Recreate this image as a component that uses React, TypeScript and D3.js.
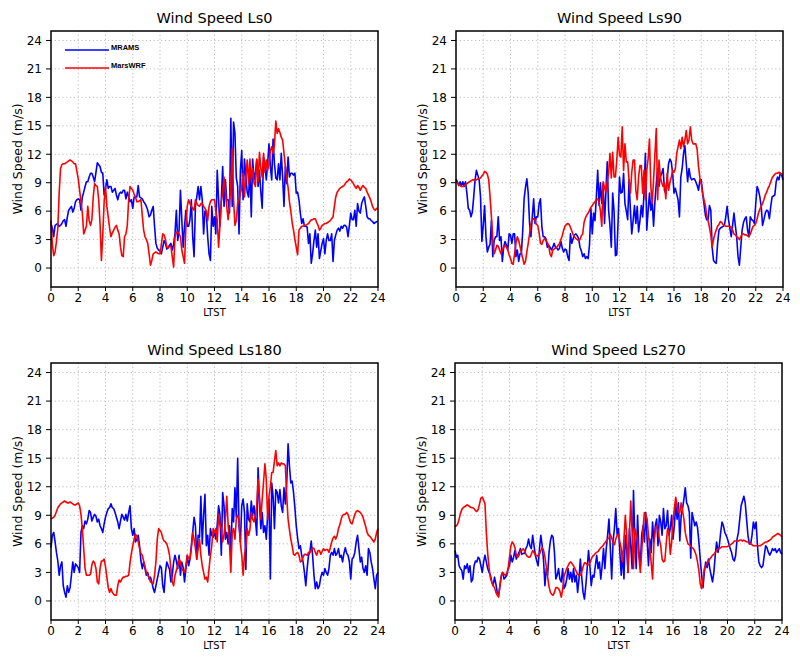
import React from "react";
import * as d3 from "d3";

// Hourly grid of the model output: one value every 0.1 h from 0 to 24 LTST
const TIME_STEP = 0.1;
const xTickValues = [0, 2, 4, 6, 8, 10, 12, 14, 16, 18, 20, 22, 24];
const yTickValues = [0, 3, 6, 9, 12, 15, 18, 21, 24];
const seriesNames = ["MRAMS", "MarsWRF"];

const mramsLs0 = [
  4.7, 4.2, 3.3, 4.5, 4.6, 4.7, 4.4, 4.5, 4.7, 5.0,
  5.1, 4.4, 5.4, 6.1, 6.3, 6.5, 5.9, 6.3, 7.0, 7.2,
  7.3, 7.2, 6.1, 7.5, 8.0, 8.6, 9.1, 9.1, 9.6, 10.0,
  10.0, 9.6, 9.1, 10.1, 11.1, 10.9, 10.7, 10.1, 10.0, 7.7,
  8.4, 9.3, 8.4, 8.6, 8.6, 8.0, 8.2, 8.4, 7.7, 7.2,
  7.8, 8.0, 7.9, 8.2, 8.2, 7.3, 8.0, 7.5, 7.0, 7.2,
  6.3, 7.5, 7.5, 7.5, 8.7, 7.5, 7.4, 7.3, 7.0, 6.8,
  6.5, 6.1, 5.4, 5.6, 6.1, 6.5, 4.4, 2.6, 2.1, 1.9,
  1.8, 1.5, 2.2, 2.9, 2.6, 2.0, 2.2, 2.4, 2.6, 1.9,
  2.5, 3.6, 6.1, 2.9, 4.0, 8.2, 5.1, 2.2, 4.4, 6.1,
  4.4, 4.4, 5.1, 7.2, 3.3, 1.2, 6.5, 7.5, 8.6, 7.2,
  8.6, 7.2, 3.6, 6.0, 5.8, 3.3, 1.5, 0.8, 6.5, 4.4,
  5.4, 3.6, 10.3, 7.2, 4.4, 7.2, 10.7, 6.5, 9.3, 7.2,
  7.2, 5.8, 15.8, 6.5, 15.4, 14.2, 9.5, 8.6, 3.6, 10.3,
  12.4, 7.2, 11.5, 9.6, 8.0, 7.5, 10.5, 5.4, 11.5, 9.3,
  10.0, 11.4, 8.6, 10.3, 8.0, 6.3, 11.7, 10.8, 9.3, 11.0,
  13.1, 10.7, 9.3, 13.6, 11.0, 9.5, 9.3, 11.0, 9.3, 12.1,
  9.6, 6.5, 10.7, 8.9, 11.7, 9.6, 10.0, 10.0, 9.8, 10.0,
  7.9, 8.0, 7.2, 5.8, 4.7, 5.2, 4.4, 4.4, 4.3, 2.6,
  3.6, 0.5, 1.5, 2.9, 4.0, 2.2, 3.6, 1.0, 1.8, 2.6,
  3.1, 1.5, 2.9, 3.6, 2.9, 2.9, 3.6, 0.7, 2.9, 3.5,
  4.0, 4.2, 3.9, 4.4, 4.2, 4.5, 4.5, 4.3, 3.3, 4.5,
  5.8, 5.1, 5.1, 6.1, 4.4, 6.8, 6.0, 5.8, 6.8, 7.2,
  7.5, 6.5, 5.4, 5.2, 5.2, 5.0, 4.9, 4.7, 4.8, 4.9,
  4.9,
];

const marswrfLs0 = [
  5.0, 2.5, 1.3, 1.7, 2.8, 4.2, 7.9, 10.5, 10.9, 11.0,
  11.0, 11.1, 11.2, 11.3, 11.4, 11.3, 11.2, 11.0, 11.0, 10.2,
  9.4, 8.2, 7.0, 5.8, 3.6, 4.0, 4.4, 6.5, 5.0, 4.5,
  5.1, 7.5, 8.9, 8.7, 8.6, 7.2, 4.7, 0.8, 3.5, 7.0,
  8.6, 6.5, 5.4, 4.2, 3.3, 3.7, 4.0, 4.3, 4.5, 4.0,
  3.6, 2.2, 1.3, 1.2, 3.3, 3.6, 4.5, 7.2, 8.6, 8.4,
  8.2, 7.8, 7.5, 7.0, 7.0, 7.1, 7.2, 5.5, 4.0, 3.3,
  3.0, 2.6, 1.5, 0.3, 0.8, 1.5, 1.6, 1.7, 1.6, 1.5,
  1.5, 2.5, 3.6, 3.5, 3.0, 2.2, 2.1, 2.3, 2.3, 1.2,
  0.1, 3.3, 3.8, 3.8, 3.6, 3.3, 1.9, 1.2, 0.5, 4.4,
  6.5, 7.2, 6.8, 6.5, 6.3, 6.1, 7.2, 6.8, 6.6, 6.5,
  6.8, 6.8, 6.5, 6.3, 6.0, 5.0, 6.5, 7.0, 7.2, 7.2,
  7.2, 6.0, 5.1, 2.2, 4.5, 7.0, 7.9, 9.6, 8.0, 6.5,
  5.1, 6.5, 8.9, 12.6, 7.2, 4.5, 5.0, 6.8, 7.2, 7.9,
  8.5, 10.0, 7.5, 9.5, 11.4, 8.9, 11.5, 9.3, 10.5, 9.0,
  8.6, 11.5, 9.1, 12.2, 10.5, 9.6, 12.1, 10.1, 11.4, 10.3,
  11.0, 12.4, 12.8, 12.1, 13.0, 15.5, 14.2, 14.7, 14.3, 13.8,
  13.5, 12.1, 10.7, 9.5, 8.5, 7.0, 6.0, 4.8, 4.0, 3.0,
  2.2, 1.4, 4.0, 4.2, 4.4, 4.4, 4.5, 4.5, 4.6, 4.7,
  4.9, 5.1, 5.1, 5.2, 5.2, 4.8, 4.5, 4.0, 4.2, 4.5,
  4.6, 4.7, 4.7, 4.8, 4.9, 5.0, 5.2, 5.4, 6.5, 7.5,
  8.0, 8.2, 8.4, 8.5, 8.6, 8.7, 8.9, 9.1, 9.2, 9.4,
  9.3, 9.1, 8.9, 8.6, 8.4, 8.7, 8.5, 8.2, 8.5, 8.7,
  8.5, 8.4, 8.0, 7.7, 7.4, 7.0, 6.5, 6.2, 6.1, 6.3,
  6.2,
];

const mramsLs90 = [
  9.4, 9.1, 8.7, 9.1, 8.7, 9.1, 8.6, 9.1, 7.9, 6.3,
  6.1, 5.4, 5.9, 7.5, 9.3, 10.3, 9.8, 9.3, 7.5, 2.8,
  4.5, 6.6, 3.3, 1.7, 2.2, 2.5, 5.0, 1.2, 2.9, 3.3,
  3.3, 5.4, 2.9, 3.3, 0.7, 2.2, 2.8, 2.4, 1.9, 3.6,
  3.5, 2.6, 3.6, 3.6, 1.2, 1.9, 0.7, 1.5, 1.5, 4.0,
  7.3, 8.5, 9.4, 7.9, 4.7, 3.3, 5.4, 7.3, 4.7, 5.4,
  5.4, 6.8, 7.3, 4.4, 3.3, 3.3, 3.1, 2.2, 2.4, 2.2,
  1.9, 2.2, 2.6, 2.2, 2.1, 1.9, 2.1, 2.8, 2.1, 1.7,
  2.0, 1.9, 1.2, 0.8, 3.6, 2.6, 3.1, 3.5, 3.6, 3.4,
  3.1, 2.2, 1.8, 1.2, 1.5, 1.0, 1.2, 1.0, 2.5, 6.3,
  3.6, 5.8, 5.0, 7.5, 10.3, 6.6, 9.0, 6.8, 8.9, 4.7,
  8.0, 11.2, 6.1, 4.5, 2.2, 7.9, 6.0, 1.3, 1.4, 5.0,
  9.6, 7.9, 8.0, 10.0, 6.8, 6.0, 5.1, 9.3, 6.1, 3.6,
  5.0, 6.6, 4.7, 6.5, 3.8, 5.0, 6.6, 5.4, 7.9, 12.1,
  4.0, 6.0, 7.9, 6.1, 7.0, 4.4, 7.0, 8.9, 10.5, 8.6,
  9.6, 10.0, 10.5, 8.2, 7.9, 9.4, 11.0, 11.5, 11.2, 10.0,
  7.9, 8.4, 7.8, 7.2, 5.4, 9.6, 10.5, 12.1, 12.9, 11.0,
  9.1, 10.5, 9.6, 9.3, 9.4, 9.4, 9.1, 8.7, 8.2, 9.3,
  9.3, 7.9, 6.8, 5.6, 5.1, 5.1, 6.6, 6.1, 2.2, 0.8,
  0.6, 0.5, 2.6, 4.0, 4.2, 4.3, 4.4, 4.5, 5.4, 6.5,
  5.1, 4.2, 3.3, 4.5, 5.8, 4.5, 3.3, 1.2, 0.3, 2.2,
  4.0, 4.8, 5.2, 5.4, 4.0, 3.3, 5.4, 5.1, 5.0, 4.7,
  6.8, 8.6, 8.2, 7.5, 6.5, 4.5, 5.1, 5.8, 6.1, 6.0,
  5.2, 6.5, 7.5, 7.6, 7.7, 9.1, 9.6, 9.3, 10.0, 9.8,
  9.3,
];

const marswrfLs90 = [
  9.1, 9.0, 8.8, 8.7, 8.6, 8.6, 8.7, 8.8, 8.9, 9.0,
  9.1, 9.2, 9.3, 9.3, 9.3, 9.3, 9.4, 9.4, 9.5, 9.7,
  9.9, 10.2, 10.1, 9.9, 9.3, 7.5, 5.4, 3.0, 1.5, 1.9,
  2.4, 2.3, 1.9, 1.5, 1.9, 2.2, 2.4, 2.2, 1.9, 1.4,
  1.0, 0.5, 0.4, 1.5, 2.6, 3.3, 2.9, 2.3, 1.6, 1.0,
  0.4, 0.7, 1.7, 2.6, 3.6, 4.7, 5.1, 5.2, 5.1, 4.6,
  4.5, 3.7, 2.6, 2.5, 2.9, 3.1, 2.9, 2.7, 2.4, 1.5,
  1.2, 1.9, 2.0, 2.1, 2.2, 2.4, 2.6, 3.0, 3.4, 4.0,
  4.4, 4.6, 4.7, 4.6, 4.3, 3.9, 3.5, 3.3, 3.1, 3.0,
  2.9, 3.0, 3.4, 3.6, 4.8, 5.3, 5.6, 5.8, 6.1, 6.4,
  6.6, 6.8, 7.0, 7.2, 7.3, 7.0, 6.0, 4.4, 9.1, 8.5,
  8.0, 9.1, 10.0, 12.1, 9.5, 12.2, 9.6, 9.6, 11.4, 13.8,
  11.9, 11.7, 14.9, 10.3, 13.1, 11.2, 11.2, 9.3, 7.9, 10.1,
  11.4, 11.4, 8.2, 7.2, 9.6, 10.8, 10.8, 7.9, 10.3, 7.2,
  10.3, 11.5, 13.6, 8.6, 6.8, 9.3, 12.0, 14.7, 7.2, 11.4,
  9.6, 9.0, 8.6, 8.9, 7.3, 10.0, 8.2, 9.0, 9.6, 10.3,
  10.1, 10.5, 12.1, 12.8, 13.5, 12.6, 13.8, 12.8, 13.5, 14.5,
  13.1, 13.5, 14.9, 13.5, 13.1, 13.1, 13.1, 12.5, 10.7, 9.5,
  8.9, 7.9, 7.2, 6.6, 5.6, 5.0, 4.3, 3.5, 2.2, 3.0,
  3.6, 4.0, 4.4, 4.6, 4.9, 4.8, 4.6, 4.5, 4.4, 4.4,
  4.4, 4.4, 4.3, 4.0, 3.6, 3.5, 3.3, 3.2, 3.0, 3.3,
  3.6, 3.6, 3.5, 3.5, 3.4, 3.3, 3.6, 4.0, 4.4, 4.5,
  4.7, 5.2, 5.8, 6.2, 6.5, 6.8, 7.2, 7.7, 8.0, 8.4,
  8.7, 9.1, 9.5, 9.7, 9.9, 10.0, 10.0, 10.1, 10.0, 9.9,
  9.8,
];

const mramsLs180 = [
  5.6, 6.9, 7.2, 6.2, 5.1, 4.2, 2.7, 3.7, 4.1, 1.6,
  0.9, 0.4, 1.6, 0.9, 1.4, 2.7, 4.1, 3.0, 3.9, 3.7,
  3.5, 3.0, 7.2, 7.9, 7.6, 8.4, 8.1, 8.6, 9.5, 9.3,
  8.4, 8.8, 9.1, 8.9, 8.3, 8.6, 7.9, 7.6, 7.2, 8.1,
  8.8, 9.3, 9.7, 9.8, 10.2, 9.8, 9.7, 9.3, 8.8, 8.3,
  7.6, 8.4, 9.1, 8.8, 8.5, 9.1, 8.4, 9.3, 10.0, 7.6,
  6.9, 7.6, 6.2, 6.5, 6.9, 5.8, 4.2, 3.4, 4.1, 3.4,
  2.7, 3.0, 2.3, 2.5, 2.0, 1.3, 0.9, 1.6, 2.3, 3.0,
  3.7, 3.5, 1.6, 0.9, 3.0, 4.1, 3.7, 3.3, 2.0, 2.7,
  4.1, 4.8, 4.2, 3.4, 4.8, 2.7, 4.1, 3.5, 2.0, 3.4,
  4.8, 3.7, 4.4, 5.8, 7.2, 8.8, 7.9, 4.4, 6.9, 6.7,
  11.0, 6.0, 9.0, 11.2, 5.8, 6.9, 4.8, 7.6, 6.9, 6.7,
  7.2, 6.5, 8.0, 10.0, 9.1, 4.8, 11.4, 10.0, 6.5, 7.2,
  6.0, 7.9, 4.6, 9.7, 8.3, 11.9, 8.8, 15.0, 7.9, 6.2,
  10.0, 10.7, 9.3, 3.3, 10.2, 8.6, 8.3, 10.5, 9.0, 10.0,
  8.6, 6.9, 14.0, 10.3, 7.6, 9.3, 7.2, 7.9, 6.5, 9.0,
  10.7, 2.3, 12.4, 11.0, 7.6, 11.7, 11.4, 10.3, 11.7, 10.0,
  9.3, 11.9, 10.2, 12.4, 16.5, 14.2, 12.4, 12.6, 11.4, 9.8,
  7.9, 6.6, 5.5, 5.8, 4.8, 4.1, 3.0, 1.6, 3.4, 4.8,
  5.1, 6.3, 4.8, 2.7, 1.3, 2.0, 1.3, 1.6, 2.5, 3.0,
  2.7, 3.4, 3.0, 2.7, 3.4, 4.8, 5.1, 4.8, 5.5, 4.8,
  5.0, 5.5, 4.6, 4.8, 4.1, 5.0, 5.6, 5.0, 4.8, 4.1,
  2.3, 4.4, 4.6, 5.1, 6.2, 6.9, 5.5, 4.1, 4.6, 3.4,
  3.0, 3.7, 2.7, 5.5, 5.1, 4.1, 3.4, 2.3, 1.3, 2.7,
  3.0,
];

const marswrfLs180 = [
  8.6, 8.7, 8.8, 9.0, 9.4, 9.8, 10.0, 10.2, 10.3, 10.4,
  10.5, 10.4, 10.3, 10.3, 10.4, 10.3, 10.2, 10.1, 10.1, 10.2,
  10.3, 10.0, 9.1, 7.6, 5.5, 3.4, 2.7, 2.7, 2.7, 2.8,
  3.8, 4.2, 4.0, 3.4, 2.0, 1.8, 3.4, 4.2, 4.2, 4.4,
  3.6, 2.5, 1.4, 0.9, 1.3, 0.9, 0.7, 0.6, 0.6, 1.6,
  2.2, 2.0, 2.3, 2.5, 2.5, 2.6, 2.6, 2.7, 4.0, 5.0,
  5.8, 6.5, 7.0, 6.8, 6.2, 5.5, 5.0, 4.8, 4.2, 3.6,
  3.0, 2.7, 2.5, 2.0, 1.9, 1.8, 2.7, 4.1, 6.5, 7.6,
  7.4, 7.2, 6.6, 6.3, 6.2, 6.0, 5.5, 4.8, 3.4, 2.0,
  1.6, 2.7, 3.2, 3.7, 4.4, 4.1, 3.4, 3.2, 3.0, 3.7,
  4.8, 4.5, 4.4, 5.5, 7.2, 6.5, 5.5, 4.4, 5.5, 6.5,
  4.8, 3.7, 3.0, 2.3, 2.5, 2.0, 3.4, 4.8, 5.8, 7.6,
  7.2, 7.6, 6.2, 9.1, 8.0, 7.6, 6.2, 7.0, 8.6, 11.0,
  8.0, 6.0, 3.0, 7.2, 7.6, 6.5, 8.6, 9.0, 8.6, 6.0,
  4.8, 2.7, 4.8, 5.8, 7.6, 6.9, 7.5, 9.3, 8.6, 8.3,
  9.0, 10.0, 12.8, 11.0, 8.6, 10.7, 12.5, 14.4, 12.8, 8.6,
  11.0, 12.0, 13.5, 13.5, 14.7, 15.8, 14.2, 14.5, 14.2, 14.5,
  14.4, 14.4, 14.2, 11.0, 8.6, 7.5, 6.5, 5.8, 4.9, 4.8,
  5.0, 5.1, 4.8, 4.1, 4.2, 4.6, 4.9, 4.9, 4.8, 5.1,
  5.1, 5.3, 5.6, 5.5, 5.1, 4.8, 5.3, 5.3, 4.9, 5.2,
  5.5, 5.3, 5.4, 5.4, 5.1, 5.6, 6.2, 6.6, 6.8, 6.5,
  6.9, 7.6, 8.0, 8.6, 9.0, 9.1, 9.1, 9.3, 9.1, 8.6,
  8.2, 8.1, 8.6, 9.1, 9.4, 9.5, 9.4, 9.3, 9.1, 8.8,
  8.3, 7.8, 7.2, 6.9, 6.8, 6.6, 6.4, 6.2, 6.5, 7.2,
  7.6,
];

const mramsLs270 = [
  5.3, 4.6, 4.8, 3.7, 3.4, 3.2, 2.3, 3.7, 3.4, 3.9,
  3.0, 3.7, 2.0, 2.3, 3.7, 4.2, 4.1, 4.6, 4.4, 3.7,
  3.0, 4.1, 4.8, 4.1, 3.4, 3.0, 2.7, 2.0, 1.6, 2.5,
  1.8, 0.9, 0.6, 1.6, 2.7, 3.0, 2.3, 2.5, 2.7, 3.4,
  3.7, 4.8, 4.1, 4.6, 5.3, 4.4, 4.8, 5.1, 5.5, 4.9,
  5.0, 5.0, 5.5, 5.8, 6.5, 5.8, 5.5, 6.9, 5.8, 4.8,
  4.2, 3.7, 5.5, 6.9, 5.8, 4.2, 1.6, 3.4, 2.7, 5.1,
  6.3, 6.9, 6.7, 5.1, 2.3, 2.7, 3.4, 2.3, 2.0, 3.4,
  1.3, 1.6, 2.3, 3.4, 2.3, 3.0, 2.0, 3.4, 2.0, 2.7,
  0.9, 2.3, 4.4, 2.5, 0.9, 0.2, 1.6, 3.4, 5.3, 3.7,
  1.6, 2.7, 2.5, 3.7, 4.8, 3.4, 4.1, 2.3, 3.7, 5.5,
  3.4, 5.5, 6.9, 8.6, 5.5, 2.3, 6.2, 7.6, 9.7, 7.0,
  7.6, 5.1, 2.7, 5.1, 2.3, 6.9, 5.5, 3.0, 7.6, 5.8,
  3.4, 11.6, 6.5, 3.4, 9.0, 5.1, 3.7, 6.9, 7.9, 6.2,
  9.3, 6.5, 3.7, 6.5, 5.1, 8.3, 6.2, 7.9, 8.6, 5.8,
  9.0, 8.3, 6.9, 9.7, 7.6, 7.9, 9.5, 6.9, 7.6, 9.0,
  6.5, 7.9, 10.2, 8.6, 10.3, 6.3, 9.0, 9.7, 10.7, 11.9,
  10.3, 10.0, 9.3, 4.5, 9.3, 8.6, 7.9, 8.3, 7.7, 6.2,
  4.4, 2.7, 1.4, 3.0, 4.1, 3.5, 4.4, 3.4, 2.7, 2.0,
  3.0, 4.8, 6.2, 5.1, 5.8, 7.2, 8.3, 7.9, 7.2, 6.9,
  6.5, 6.0, 5.5, 5.1, 4.4, 4.2, 4.8, 6.5, 7.2, 8.6,
  10.0, 10.5, 11.0, 10.3, 8.6, 6.9, 6.0, 6.0, 6.9, 8.3,
  7.6, 8.3, 5.8, 4.1, 3.7, 3.5, 3.7, 4.8, 5.8, 5.6,
  5.1, 4.8, 5.1, 5.5, 5.3, 5.5, 5.1, 5.3, 5.5, 5.1,
  4.9,
];

const marswrfLs270 = [
  7.8, 7.9, 8.1, 8.6, 9.2, 9.6, 9.8, 9.9, 10.0, 10.1,
  10.0, 9.9, 9.8, 9.8, 9.7, 9.5, 9.4, 9.6, 10.2, 10.8,
  10.9, 10.6, 10.2, 7.2, 5.0, 3.5, 2.4, 2.0, 1.6, 1.4,
  0.9, 0.6, 0.4, 1.6, 2.6, 3.0, 2.8, 2.7, 2.9, 3.4,
  4.6, 5.8, 6.2, 6.0, 5.6, 4.8, 4.6, 4.8, 5.3, 5.3,
  5.5, 5.3, 4.9, 4.7, 4.6, 4.6, 4.9, 5.3, 5.1, 4.8,
  4.8, 4.7, 4.9, 5.3, 5.6, 5.3, 4.6, 3.6, 2.5, 1.5,
  0.9, 0.7, 0.6, 0.9, 1.4, 1.4, 1.3, 1.0, 0.4, 1.2,
  2.6, 3.0, 3.4, 3.7, 4.0, 4.1, 3.9, 3.7, 3.4, 3.1,
  2.8, 2.7, 2.7, 3.0, 3.6, 4.0, 4.0, 3.8, 3.8, 4.0,
  4.4, 4.7, 4.8, 5.0, 5.1, 5.2, 5.4, 5.6, 5.7, 5.9,
  6.1, 6.3, 6.5, 6.6, 7.0, 6.6, 6.2, 5.9, 6.5, 6.9,
  7.0, 6.2, 5.5, 4.1, 6.5, 9.0, 6.9, 3.0, 7.0, 10.5,
  7.2, 3.4, 7.6, 7.0, 6.5, 4.6, 3.0, 5.1, 7.6, 9.3,
  9.0, 8.6, 6.9, 5.5, 4.0, 2.3, 6.0, 7.6, 7.9, 7.4,
  6.5, 5.8, 4.4, 4.1, 4.2, 6.0, 7.6, 7.2, 4.9, 6.2,
  8.5, 9.7, 10.9, 10.0, 9.3, 9.3, 10.3, 9.5, 8.6, 7.2,
  6.5, 6.0, 5.9, 5.8, 5.6, 5.5, 5.2, 4.8, 4.1, 3.2,
  1.8, 1.3, 2.3, 3.4, 3.7, 4.0, 4.2, 4.4, 4.6, 4.8,
  4.9, 5.1, 5.3, 5.5, 5.5, 5.6, 5.7, 5.7, 5.7, 5.7,
  5.7, 5.8, 5.9, 6.0, 6.1, 6.3, 6.3, 6.3, 6.3, 6.4,
  6.4, 6.3, 6.4, 6.3, 6.2, 6.2, 6.1, 6.0, 5.9, 5.8,
  5.8, 5.8, 5.8, 5.8, 5.8, 5.9, 6.0, 6.1, 6.2, 6.2,
  6.3, 6.4, 6.5, 6.7, 6.8, 6.9, 7.0, 7.1, 7.0, 6.9,
  6.7,
];

const panelTitles = ["Wind Speed Ls0", "Wind Speed Ls90", "Wind Speed Ls180", "Wind Speed Ls270"];
const mramsSeries = [mramsLs0, mramsLs90, mramsLs180, mramsLs270];
const marswrfSeries = [marswrfLs0, marswrfLs90, marswrfLs180, marswrfLs270];

// layout (not data)
const W = 800;
const H = 658;
const PLOT_W = 327;
const layouts = [
  { left: 51, top: 31, height: 256, legend: true },
  { left: 456, top: 31, height: 256, legend: false },
  { left: 51, top: 363, height: 257, legend: false },
  { left: 455, top: 363, height: 257, legend: false },
];

const BLUE = "#0000ff";
const RED = "#ff0000";
const FONT = "'DejaVu Sans', sans-serif";

function Panel({ idx }: { idx: number }) {
  const { left, top, height, legend } = layouts[idx];
  const right = left + PLOT_W;
  const bottom = top + height;
  const x = d3.scaleLinear().domain([0, 24]).range([left, right]);
  const y = d3.scaleLinear().domain([-2, 25]).range([bottom, top]);
  const line = d3
    .line<number>()
    .x((_, i) => x(i * TIME_STEP))
    .y((d) => y(d));

  return (
    <g>
      {/* grid */}
      {xTickValues
        .filter((t) => t > 0 && t < 24)
        .map((t) => (
          <line
            key={"gx" + t}
            x1={x(t)}
            x2={x(t)}
            y1={top}
            y2={bottom}
            stroke="#bcbcbc"
            strokeWidth={1}
            strokeDasharray="1.2 2.6"
          />
        ))}
      {yTickValues.map((v) => (
        <line
          key={"gy" + v}
          x1={left}
          x2={right}
          y1={y(v)}
          y2={y(v)}
          stroke="#bcbcbc"
          strokeWidth={1}
          strokeDasharray="1.2 2.6"
        />
      ))}

      {/* series */}
      <path d={line(mramsSeries[idx]) || ""} fill="none" stroke={BLUE} strokeWidth={1.6} strokeLinejoin="round" />
      <path d={line(marswrfSeries[idx]) || ""} fill="none" stroke={RED} strokeWidth={1.6} strokeLinejoin="round" />

      {/* frame */}
      <rect x={left} y={top} width={PLOT_W} height={height} fill="none" stroke="#000" strokeWidth={1.5} />

      {/* y ticks */}
      {yTickValues.map((v) => (
        <g key={"yt" + v}>
          <line x1={left - 5} x2={left} y1={y(v)} y2={y(v)} stroke="#000" strokeWidth={1} />
          <text x={left - 9} y={y(v)} dy="0.36em" textAnchor="end" fontSize={12} fontFamily={FONT} fill="#000">
            {v}
          </text>
        </g>
      ))}
      {/* x ticks */}
      {xTickValues.map((t) => (
        <g key={"xt" + t}>
          <line x1={x(t)} x2={x(t)} y1={bottom} y2={bottom + 4} stroke="#000" strokeWidth={1} />
          <text x={x(t)} y={bottom + 15} textAnchor="middle" fontSize={12} fontFamily={FONT} fill="#000">
            {t}
          </text>
        </g>
      ))}

      {/* labels */}
      <text
        x={(left + right) / 2}
        y={bottom + 29}
        textAnchor="middle"
        fontSize={11}
        fontFamily="'DejaVu Sans Condensed', 'DejaVu Sans', sans-serif"
        fill="#000"
      >
        LTST
      </text>
      <text
        transform={`translate(${left - 29},${(top + bottom) / 2}) rotate(-90)`}
        textAnchor="middle"
        fontSize={12.5}
        fontFamily={FONT}
        fill="#000"
      >
        Wind Speed (m/s)
      </text>
      <text x={(left + right) / 2} y={top - 8} textAnchor="middle" fontSize={14.5} fontFamily={FONT} fill="#000">
        {panelTitles[idx]}
      </text>

      {legend && (
        <g>
          <line x1={left + 14} x2={left + 58} y1={top + 19} y2={top + 19} stroke={BLUE} strokeWidth={1.6} />
          <text x={left + 60} y={top + 19} fontSize={7.5} fontWeight="bold" fontFamily="'Liberation Sans', Arial, sans-serif" fill="#000">
            {seriesNames[0]}
          </text>
          <line x1={left + 14} x2={left + 58} y1={top + 37} y2={top + 37} stroke={RED} strokeWidth={1.6} />
          <text x={left + 60} y={top + 37} fontSize={7.5} fontWeight="bold" fontFamily="'Liberation Sans', Arial, sans-serif" fill="#000">
            {seriesNames[1]}
          </text>
        </g>
      )}
    </g>
  );
}

export default function App() {
  return (
    <svg
      width={W}
      height={H}
      viewBox={`0 0 ${W} ${H}`}
      style={{ position: "absolute", left: 0, top: 0, display: "block", background: "#fff" }}
    >
      <rect x={0} y={0} width={W} height={H} fill="#fff" />
      {layouts.map((_, i) => (
        <Panel key={i} idx={i} />
      ))}
    </svg>
  );
}
